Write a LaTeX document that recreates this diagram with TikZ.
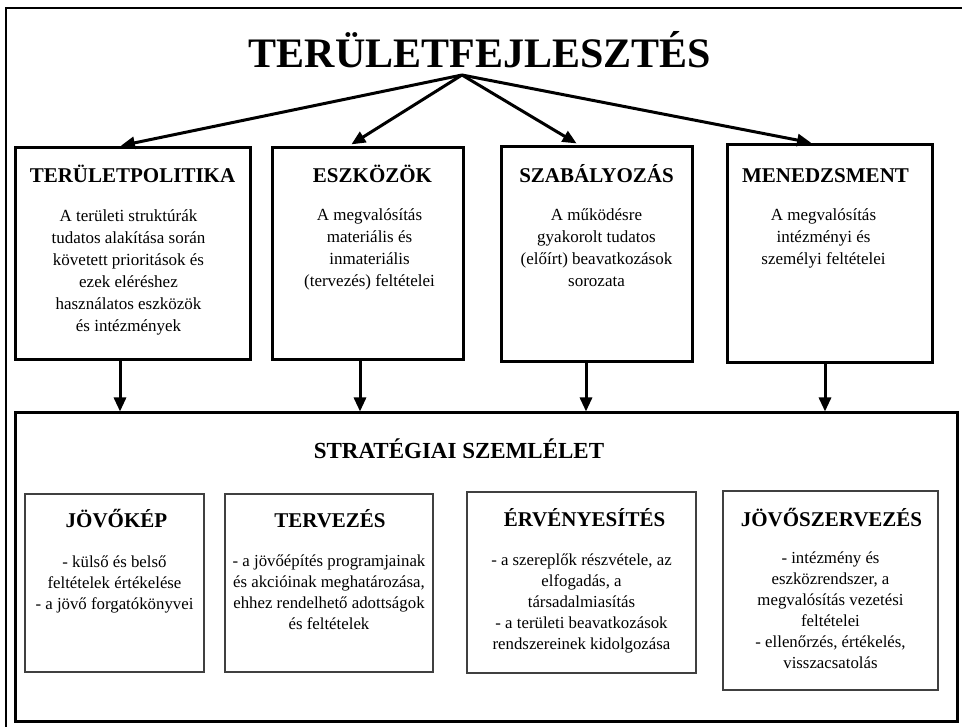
\documentclass[tikz,border=0pt]{standalone}
\usepackage{fontspec}
\setmainfont{Liberation Serif}
\usetikzlibrary{arrows.meta}

\begin{document}
\begin{tikzpicture}[x=1pt,y=-1pt,>={Triangle[length=14pt,width=12pt]},
      top box/.style={draw,line width=3pt,inner sep=0pt},
      inner box/.style={draw=black!75,line width=1.5pt,inner sep=0pt},
      head/.style={font=\fontsize{21}{25}\selectfont\bfseries,inner sep=0pt,anchor=base},
      body/.style={font=\fontsize{17}{22}\selectfont,align=center,inner sep=0pt,anchor=base},
      small body/.style={font=\fontsize{16.8}{21}\selectfont,align=center,inner sep=0pt,anchor=base},
      arrow/.style={->,line width=3pt}]

    \useasboundingbox (0,0) rectangle (962,727);
    \draw[line width=1.5pt] (6,740) -- (6,8) -- (975,8);

    \node[inner sep=0pt,anchor=base,font=\fontsize{42}{48}\selectfont\bfseries] (title) at (480,68) {TERÜLETFEJLESZTÉS};
    \coordinate (apex) at ([xshift=-18pt,yshift=-7pt]title.base);

    % upper row
    \node[top box,minimum width=235pt,minimum height=212pt] (b1) at (132.5,254) {};
    \node[top box,minimum width=191pt,minimum height=212pt] (b2) at (367.5,254) {};
    \node[top box,minimum width=191pt,minimum height=215pt] (b3) at (596.5,254.5) {};
    \node[top box,minimum width=205pt,minimum height=218pt] (b4) at (829.5,254) {};

    \node[head] at ([yshift=-36pt]b1.north) {TERÜLETPOLITIKA};
    \node[head] at ([xshift=5pt,yshift=-36pt]b2.north) {ESZKÖZÖK};
    \node[head] at ([yshift=-37pt]b3.north) {SZABÁLYOZÁS};
    \node[head] at ([xshift=-4pt,yshift=-39pt]b4.north) {MENEDZSMENT};

    % anchor base = last line
    \node[body] at ([xshift=-4pt,yshift=-185pt]b1.north) {A területi struktúrák\\tudatos alakítása során\\követett prioritások és\\ezek eléréshez\\használatos eszközök\\és intézmények};
    \node[body] at ([xshift=2pt,yshift=-140pt]b2.north) {A megvalósítás\\materiális és\\inmateriális\\(tervezés) feltételei};
    \node[body] at ([yshift=-141pt]b3.north) {A működésre\\gyakorolt tudatos\\(előírt) beavatkozások\\sorozata};
    \node[body] at ([xshift=-6pt,yshift=-121pt]b4.north) {A megvalósítás\\intézményi és\\személyi feltételei};

    \foreach \b/\dx in {b1/-15.5,b2/-19.5,b3/-16.5,b4/-14.5}
      \draw[arrow,shorten >=4pt] (apex) -- ([xshift=\dx pt]\b.north);

    % lower part
    \node[top box,minimum width=942pt,minimum height=308pt] (big) at (486,567) {};
    \node[inner sep=0pt,anchor=base,font=\fontsize{23}{27}\selectfont\bfseries] at ([xshift=-27pt,yshift=-47pt]big.north) {STRATÉGIAI SZEMLÉLET};

    \foreach \b/\dx in {b1/-12.5,b2/-7.5,b3/-10.5,b4/-4.5}{
      \coordinate (s\b) at ([xshift=\dx pt]\b.south);
      \draw[arrow] (s\b) -- (s\b |- big.north);
    }

    \node[inner box,minimum width=179pt,minimum height=178pt] (i1) at (114.5,583) {};
    \node[inner box,minimum width=208pt,minimum height=178pt] (i2) at (329,583) {};
    \node[inner box,minimum width=229pt,minimum height=181pt] (i3) at (581.5,582.5) {};
    \node[inner box,minimum width=215pt,minimum height=199pt] (i4) at (830.5,590.5) {};

    \node[head] at ([xshift=2pt,yshift=-34pt]i1.north) {JÖVŐKÉP};
    \node[head] at ([xshift=1pt,yshift=-34pt]i2.north) {TERVEZÉS};
    \node[head] at ([xshift=3pt,yshift=-35pt]i3.north) {ÉRVÉNYESÍTÉS};
    \node[head] at ([xshift=1pt,yshift=-36pt]i4.north) {JÖVŐSZERVEZÉS};

    \node[small body] at ([yshift=-116pt]i1.north) {- külső és belső\\feltételek értékelése\\- a jövő forgatókönyvei};
    \node[small body] at ([yshift=-136pt]i2.north) {- a jövőépítés programjainak\\és akcióinak meghatározása,\\ehhez rendelhető adottságok\\és feltételek};
    \node[small body] at ([yshift=-158pt]i3.north) {- a szereplők részvétele, az\\elfogadás, a\\társadalmiasítás\\- a területi beavatkozások\\rendszereinek kidolgozása};
    \node[small body] at ([yshift=-178pt]i4.north) {- intézmény és\\eszközrendszer, a\\megvalósítás vezetési\\feltételei\\- ellenőrzés, értékelés,\\visszacsatolás};
\end{tikzpicture}
\end{document}
